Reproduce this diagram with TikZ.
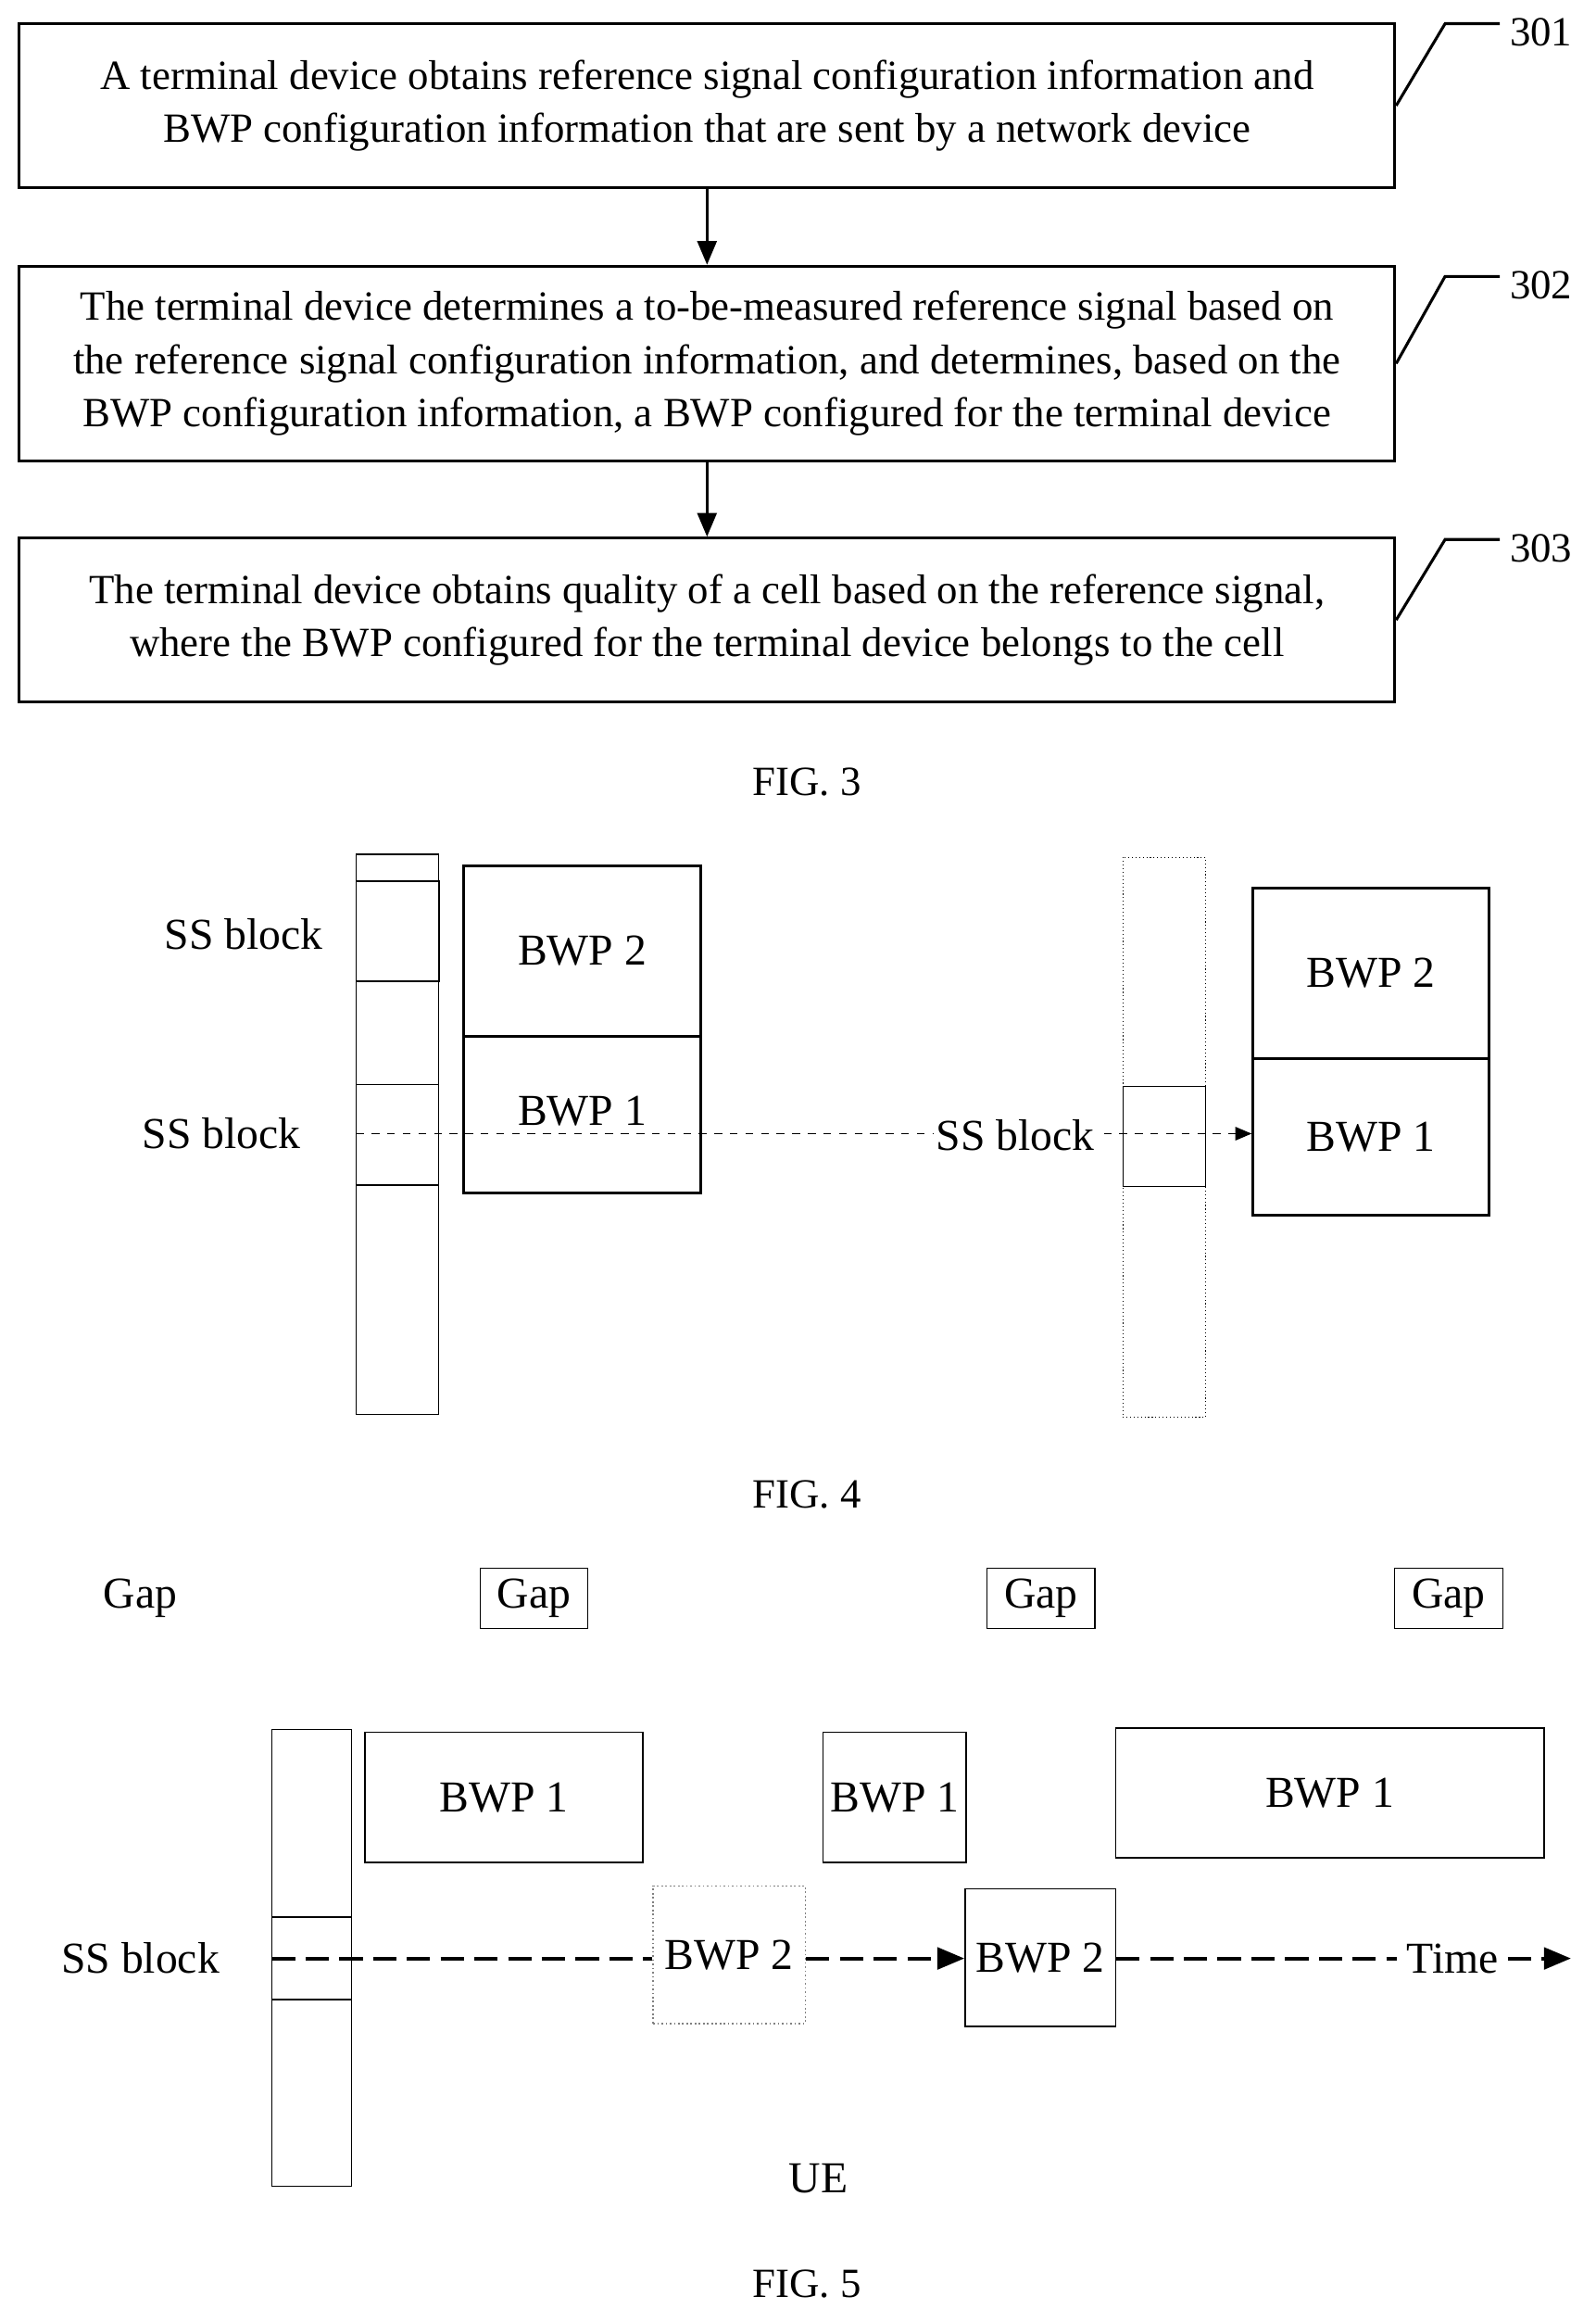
\documentclass[tikz,border=0pt]{standalone}
\usepackage{fontspec}
\setmainfont{Liberation Serif}
\usetikzlibrary{arrows}
\usepackage{xcolor}

\begin{document}
\begin{tikzpicture}
	[x=0.02cm,y=-0.02cm,line width=0.6,
	stepbox/.style = {
		draw, line width=1.1, minimum width=18.62cm, align=center,
		font=\fontsize{16}{20.5}\selectfont
	},
	box/.style = {
		draw, inner sep=0cm
	},
	lbl/.style = {
		font=\fontsize{17}{20}\selectfont
	},
	figcap/.style = {
		font=\fontsize{16}{20}\selectfont
	},
	thindash/.style = {
		dashed, line width=0.4
	},
	thickdash/.style = {
		dash pattern=on 9pt off 4pt, line width=1.4
	}]
	\useasboundingbox (0,0) rectangle (1080,1571);
	
	%FIG. 3
	\node[stepbox, minimum height=2.22cm] at (478.5,71.5) (s301) {A terminal device obtains reference signal configuration information and\\BWP configuration information that are sent by a network device};
	\node[stepbox, minimum height=2.64cm] at (478.5,246) (s302) {The terminal device determines a to-be-measured reference signal based on\\the reference signal configuration information, and determines, based on the\\BWP configuration information, a BWP configured for the terminal device};
	\node[stepbox, minimum height=2.22cm] at (478.5,419.5) (s303) {The terminal device obtains quality of a cell based on the reference signal,\\where the BWP configured for the terminal device belongs to the cell};
	\node[figcap] at (1043,22) (n301) {301};
	\node[figcap] at (1043,193) (n302) {302};
	\node[figcap] at (1043,371) (n303) {303};
	\coordinate (k301) at (978,16);
	\coordinate (k302) at (978,187);
	\coordinate (k303) at (978,365);
	
	\draw[-triangle 45,line width=1.1] (s301) -- (s302);
	\draw[-triangle 45,line width=1.1] (s302) -- (s303);
	\draw[line width=1.1] (s301.east) -- (k301) -- ++(37,0);
	\draw[line width=1.1] (s302.east) -- (k302) -- ++(37,0);
	\draw[line width=1.1] (s303.east) -- (k303) -- ++(37,0);
	\node[figcap] at (546,529) (fig3) {FIG. 3};
	
	%FIG. 4
	\draw[line width=0.4] (241,578) rectangle (297,957);
	\draw[line width=0.4] (241,734) -- (297,734);
	\draw[line width=0.6] (241,802) -- (297,802);
	\node[box, minimum width=1.12cm, minimum height=1.36cm] at (269,630) (ssa) {};
	\node[box, line width=1.1, minimum width=3.2cm, minimum height=2.3cm, lbl] at (394,643.5) (bwp2a) {BWP 2};
	\node[box, line width=1.1, minimum width=3.2cm, minimum height=2.12cm] at (394,754) (bwp1a) {};
	\node[lbl] at (394,752) {BWP 1};
	\node[lbl] at (165,632) (ssl1) {SS block};
	\node[lbl] at (150,767) (ssl2) {SS block};
	
	\draw[densely dotted, line width=0.4] (760,580) rectangle (816,959);
	\node[box, line width=0.4, minimum width=1.12cm, minimum height=1.36cm] at (788,769) (ssb) {};
	\node[box, line width=1.1, minimum width=3.2cm, minimum height=2.3cm, lbl] at (928,658.5) (bwp2b) {BWP 2};
	\node[box, line width=1.1, minimum width=3.2cm, minimum height=2.12cm, lbl] at (928,769) (bwp1b) {BWP 1};
	\coordinate (ds) at (241,767);
	
	\draw[thindash,-triangle 45] (ds) -- (bwp1b.west |- ds);
	\node[lbl, fill=white, inner sep=1pt] at (687,768) (ssc) {SS block};
	\node[figcap] at (546,1011) (fig4) {FIG. 4};
	
	%FIG. 5
	\node[lbl] at (95,1081) (gap0) {Gap};
	\node[box, line width=0.4, minimum width=1.46cm, minimum height=0.82cm, lbl] at (361.5,1081.5) (gap1) {Gap};
	\node[box, line width=0.4, minimum width=1.46cm, minimum height=0.82cm, lbl] at (704.5,1081.5) (gap2) {Gap};
	\node[box, line width=0.4, minimum width=1.46cm, minimum height=0.82cm, lbl] at (980.5,1081.5) (gap3) {Gap};
	
	\draw[line width=0.4] (184,1170) rectangle (238,1479);
	\draw[line width=0.4] (184,1297) -- (238,1297);
	\draw[line width=0.6] (184,1353) -- (238,1353);
	\node[box, minimum width=3.76cm, minimum height=1.76cm, lbl] at (341,1216) (b1a) {BWP 1};
	\node[box, minimum width=1.94cm, minimum height=1.76cm, lbl] at (605.5,1216) (b1b) {BWP 1};
	\node[box, minimum width=5.8cm, minimum height=1.76cm, lbl] at (900,1213) (b1c) {BWP 1};
	\node[box, draw=gray, densely dotted, minimum width=2.06cm, minimum height=1.86cm, lbl] at (493.5,1322.5) (b2a) {BWP 2};
	\node[box, minimum width=2.04cm, minimum height=1.86cm, lbl] at (704,1324.5) (b2b) {BWP 2};
	\node[lbl] at (95,1325) (ssd) {SS block};
	\node[lbl] at (983,1325) (time) {Time};
	\coordinate (t0) at (184,1325);
	\coordinate (t1) at (1063,1325);
	
	\draw[thickdash] (t0) -- (b2a.west |- t0);
	\draw[thickdash,-triangle 45] (b2a.east |- t0) -- (b2b.west |- t0);
	\draw[thickdash] (b2b.east |- t0) -- (time.west);
	\draw[thickdash,-triangle 45] (time.east) -- (t1);
	\node[lbl] at (554,1474) (ue) {UE};
	\node[figcap] at (546,1545) (fig5) {FIG. 5};
	
\end{tikzpicture}
\end{document}
